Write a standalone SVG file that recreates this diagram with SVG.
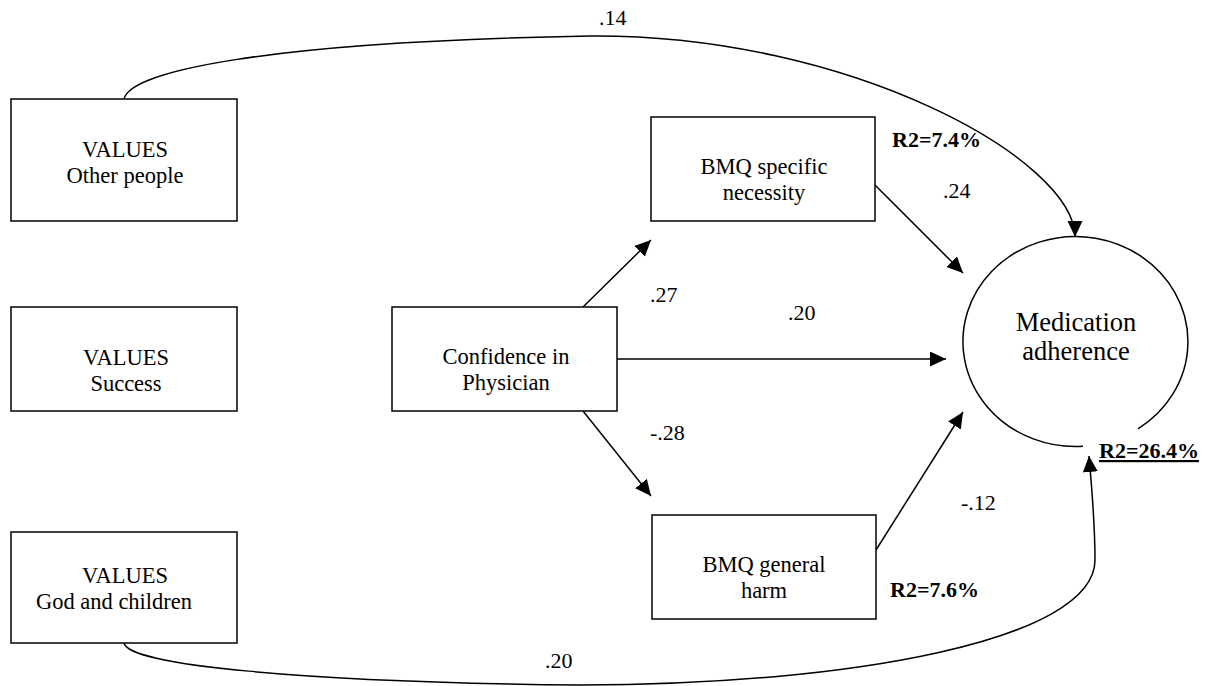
<svg xmlns="http://www.w3.org/2000/svg" width="1207" height="686" viewBox="0 0 1207 686">
<style>
.box{fill:#fff;stroke:#000;stroke-width:1.5}
.lbl{font-family:"Liberation Serif","Times New Roman",serif;font-size:22.5px;fill:#000;text-anchor:middle}
.num{font-family:"Liberation Serif","Times New Roman",serif;font-size:22px;fill:#000}
.r2{font-family:"Liberation Serif","Times New Roman",serif;font-size:22px;font-weight:bold;fill:#000}
.big{font-family:"Liberation Serif","Times New Roman",serif;font-size:26.5px;fill:#000;text-anchor:middle}
.con{fill:none;stroke:#000;stroke-width:1.5;marker-end:url(#ah)}
</style>
<defs>
<marker id="ah" markerUnits="userSpaceOnUse" markerWidth="17" markerHeight="16" refX="16" refY="7.5" orient="auto">
<path d="M0,0 L16,7.5 L0,15 z" fill="#000"/>
</marker>
</defs>
<rect width="1207" height="686" fill="#fff"/>
<g id="connectors">
<path class="con" d="M124,99 C130,72 260,42 590,36 C850,34 1075,160 1075,237"/>
<path class="con" d="M124,643 C128,665 300,682 580,685 C850,685 1095,640 1095,560 C1095,520 1091,480 1089,456"/>
<path class="con" d="M583,307 L651,240"/>
<path class="con" d="M583,411 L651,496"/>
<path class="con" d="M617,359 L946,359"/>
<path class="con" d="M875,185 L963,273"/>
<path class="con" d="M876,550 L963,412"/>
</g>
<g id="values-other">
<rect class="box" x="11" y="99" width="226" height="122"/>
<text class="lbl" x="125" y="157">VALUES</text>
<text class="lbl" x="125" y="183">Other people</text>
</g>
<g id="values-success">
<rect class="box" x="11" y="307" width="226" height="104"/>
<text class="lbl" x="126" y="365">VALUES</text>
<text class="lbl" x="126" y="391">Success</text>
</g>
<g id="values-god">
<rect class="box" x="11" y="532" width="226" height="111"/>
<text class="lbl" x="125" y="583">VALUES</text>
<text class="lbl" x="114" y="609">God and children</text>
</g>
<g id="confidence">
<rect class="box" x="392" y="307" width="225" height="104"/>
<text class="lbl" x="506" y="364">Confidence in</text>
<text class="lbl" x="506" y="390">Physician</text>
</g>
<g id="bmq-specific">
<rect class="box" x="651" y="117" width="224" height="104"/>
<text class="lbl" x="764" y="174">BMQ specific</text>
<text class="lbl" x="764" y="200">necessity</text>
</g>
<g id="bmq-harm">
<rect class="box" x="652" y="515" width="224" height="104"/>
<text class="lbl" x="764" y="572">BMQ general</text>
<text class="lbl" x="764" y="598">harm</text>
</g>
<g id="medication">
<path d="M1138,428.8 A112.5,105 0 1 0 1083,446.3" fill="none" stroke="#000" stroke-width="1.5"/>
<text class="big" x="1076" y="331">Medication</text>
<text class="big" x="1076" y="360">adherence</text>
</g>
<g id="labels">
<text class="num" x="599" y="25">.14</text>
<text class="r2" x="892" y="147">R2=7.4%</text>
<text class="num" x="943" y="198">.24</text>
<text class="num" x="650" y="302">.27</text>
<text class="num" x="788" y="320">.20</text>
<text class="num" x="650" y="440">-.28</text>
<text class="num" x="961" y="510">-.12</text>
<text class="r2" x="890" y="597">R2=7.6%</text>
<text class="r2" x="1099" y="458" text-decoration="underline">R2=26.4%</text>
<text class="num" x="545" y="668">.20</text>
</g>
</svg>
